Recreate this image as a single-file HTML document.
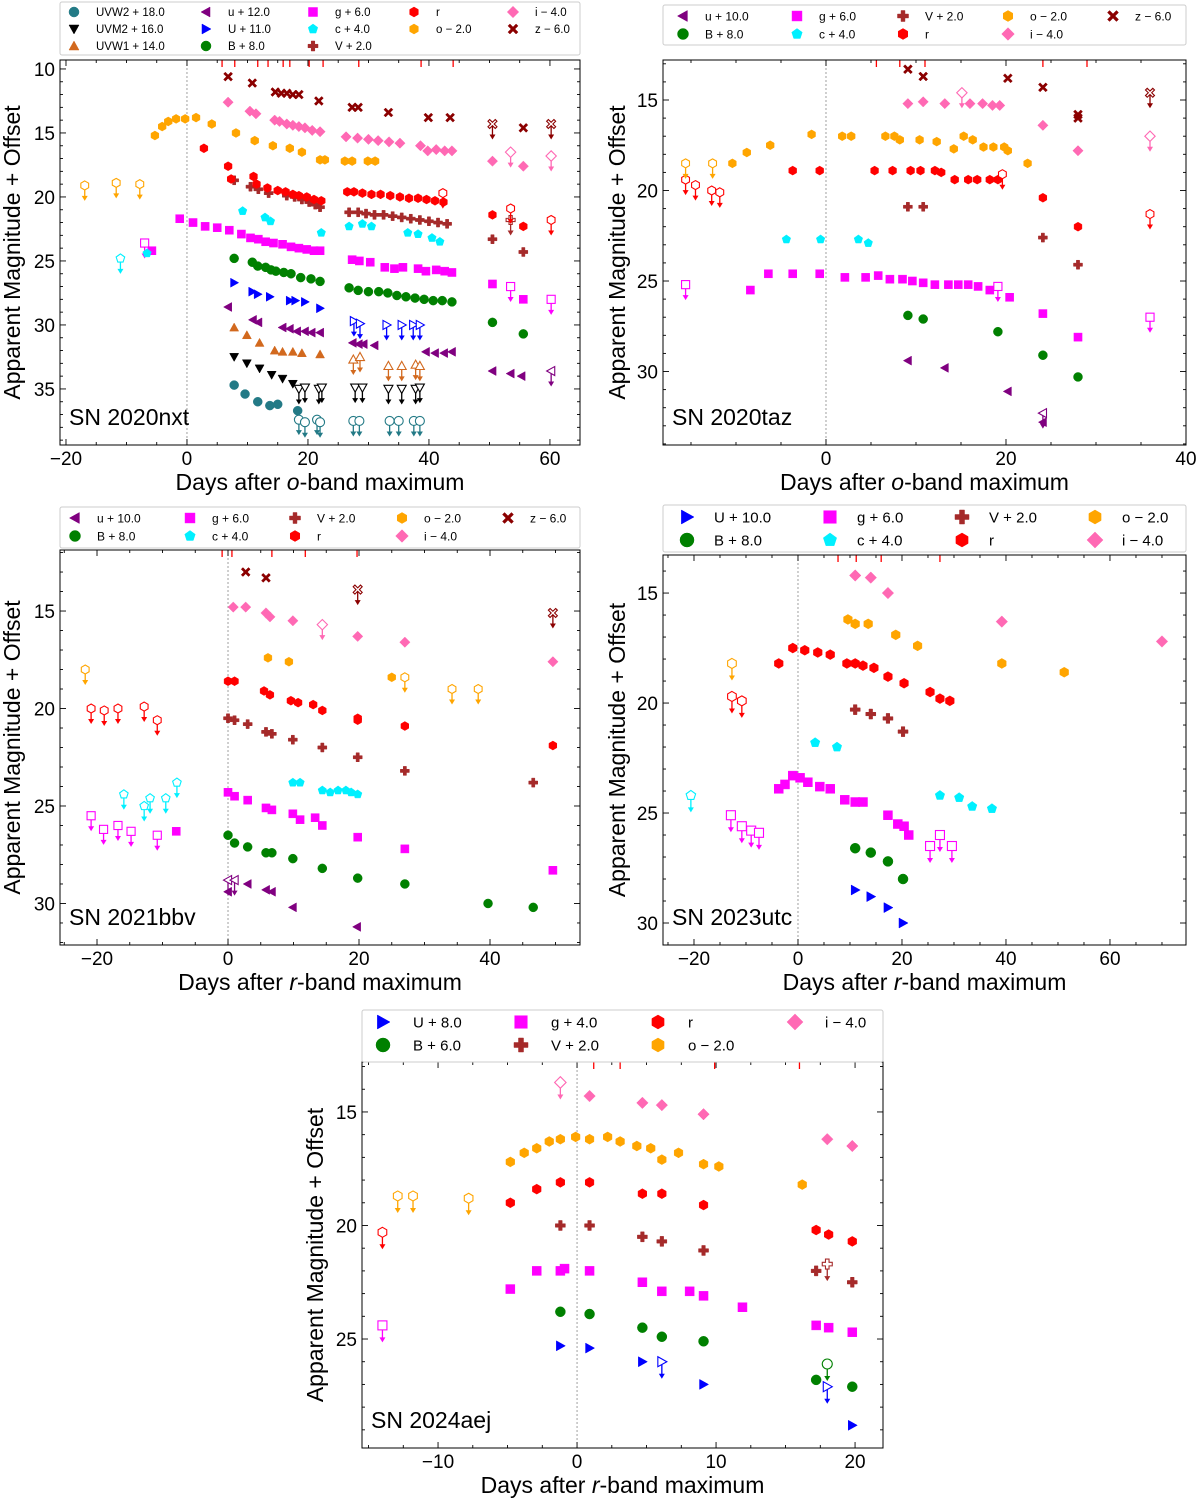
<!DOCTYPE html>
<html><head><meta charset="utf-8">
<style>
html,body{margin:0;padding:0;background:#fff;}
svg{display:block;font-family:"Liberation Sans","DejaVu Sans",sans-serif;}
</style></head>
<body>
<svg id="fig" width="1200" height="1502" viewBox="0 0 1200 1502" xmlns="http://www.w3.org/2000/svg"></svg>
<script>
// ---------- DATA: [day, magnitude, upperLimitFlag] ----------
const nxt_uvw2 = [[7.8,34.7],[9.6,35.4],[11.7,36.0],[13.7,36.3],[15,36.2],[18.3,36.7],[18.5,37.4,1],[19.5,37.6,1],[21.5,37.4,1],[22,37.6,1],[27.5,37.5,1],[28.5,37.5,1],[33.5,37.5,1],[35,37.5,1],[37.5,37.5,1],[38.5,37.5,1]];
const nxt_uvm2 = [[7.8,32.5],[9.9,33.0],[12,33.4],[14,33.9],[15.8,34.2],[17.5,34.6],[18.5,35.0,1],[19.5,34.9,1],[21.8,35.0,1],[22.3,34.9,1],[27.8,34.9,1],[29,34.9,1],[33.3,35.0,1],[35.5,35.0,1],[37.8,35.0,1],[38.5,34.9,1]];
const nxt_uvw1 = [[7.8,30.2],[9.9,30.8],[12,31.4],[14.5,32.0],[15.8,32.1],[17.5,32.1],[19,32.2],[22,32.3],[27.5,32.7,1],[28.6,32.5,1],[33.3,33.2,1],[35.5,33.2,1],[37.8,33.1,1],[38.5,33.2,1]];
const nxt_u = [[6.8,28.6],[10.9,29.6],[11.8,29.8],[15.8,30.2],[17,30.3],[18.2,30.5],[19.5,30.5],[20.6,30.6],[22,30.6],[27.4,31.4],[28.4,31.5],[29.2,31.5],[31,31.6],[39.5,32.1],[41,32.2],[42.5,32.2],[43.8,32.1],[50.5,33.6],[53.5,33.8],[55.3,34.0],[60.2,33.6,1]];
const nxt_U = [[7.8,26.7],[10.8,27.4],[11.7,27.6],[13.7,27.8],[17,28.1],[17.9,28.1],[19.5,28.2],[22,28.7],[27.6,29.7,1],[28.6,29.9,1],[33,30.0,1],[35.5,30.0,1],[37.4,30.0,1],[38.5,30.0,1]];
const nxt_B = [[7.8,24.8],[10.8,25.1],[11.7,25.4],[13,25.5],[13.9,25.7],[14.7,25.8],[16,25.9],[17.2,26.0],[18.8,26.3],[20.5,26.4],[22,26.6],[26.8,27.1],[28.3,27.3],[30,27.4],[31.7,27.4],[33.2,27.5],[34.7,27.7],[36.2,27.8],[37.7,27.9],[39.2,28.0],[40.7,28.1],[42.2,28.1],[43.8,28.2],[50.5,29.8],[55.6,30.7]];
const nxt_g = [[-7,23.6,1],[-5.8,24.2],[-1.2,21.7],[1,22.0],[3,22.3],[5,22.4],[7,22.6],[9,22.9],[10.5,23.2],[11.8,23.3],[13,23.5],[14.3,23.6],[15.8,23.7],[17.2,23.9],[18.5,24.0],[19.8,24.1],[21,24.2],[22,24.2],[27.3,24.9],[28.5,25.0],[30.3,25.1],[32.7,25.5],[34.3,25.6],[35.7,25.5],[38.2,25.6],[39.5,25.8],[41.2,25.7],[42.6,25.8],[43.8,25.9],[50.5,26.8],[53.5,27.0,1],[55.6,28.0],[60.2,28.0,1]];
const nxt_c = [[-11,24.8,1],[-6.6,24.4],[9.2,21.1],[12.9,21.6],[13.8,21.9],[22.2,22.8],[26.8,22.3],[29,22.1],[30.5,22.3],[36.5,22.8],[38.2,22.9],[40.5,23.2],[41.8,23.5]];
const nxt_V = [[7.8,18.7],[10.5,19.2],[11.8,19.4],[13.5,19.7],[16.5,19.9],[17.8,20.0],[19,20.2],[20.2,20.4],[21.2,20.6],[22,20.8],[26.8,21.2],[28.3,21.2],[29.6,21.3],[31,21.4],[32.5,21.4],[34,21.5],[35.5,21.6],[37,21.7],[38.5,21.8],[40,21.9],[41.5,22.0],[43,22.1],[50.5,23.3],[53.5,21.8,1],[55.6,24.3]];
const nxt_r = [[2.8,16.2],[6.8,17.6],[7.3,18.6],[11,18.4],[11.5,19.0],[13.3,19.3],[15,19.5],[16.3,19.6],[17.5,19.8],[18.5,19.9],[19.8,20.0],[21,20.2],[22.2,20.3],[26.5,19.6],[27.6,19.6],[29,19.7],[30.5,19.8],[32,19.8],[33.6,19.9],[35.2,20.0],[36.7,20.1],[38.2,20.1],[39.6,20.2],[41,20.3],[42.4,20.4],[42.3,19.7,1],[50.5,21.4],[53.5,20.9,1],[55.6,22.3],[60.2,21.8,1]];
const nxt_o = [[-16.9,19.1,1],[-11.7,18.9,1],[-7.8,19.0,1],[-5.3,15.2],[-4.1,14.5],[-3.1,14.1],[-1.8,13.9],[-0.3,13.9],[1.5,13.8],[4.1,14.3],[8.1,15.0],[11.2,15.6],[14.2,16.0],[17,16.2],[19,16.5],[22,17.1],[22.8,17.1],[26.1,17.2],[27.3,17.2],[29.9,17.2],[31.1,17.2]];
const nxt_i = [[6.8,12.6],[10.4,13.3],[11.4,13.5],[14.5,14.0],[15.3,14.1],[16.5,14.3],[17.5,14.4],[18.5,14.5],[19.5,14.6],[20.7,14.8],[22,14.9],[26.3,15.3],[28.2,15.4],[30,15.5],[31.6,15.6],[33.4,15.7],[35.2,15.8],[38.6,16.0],[39.8,16.4],[41.2,16.3],[42.6,16.4],[43.8,16.4],[50.5,17.2],[53.5,16.5,1],[55.6,17.6],[60.2,16.8,1]];
const nxt_z = [[6.8,10.6],[10.8,11.1],[14.6,11.8],[15.6,11.9],[16.5,11.9],[17.5,12.0],[18.5,12.0],[21.8,12.5],[27.3,13.0],[28.3,13.0],[33.3,13.4],[39.9,13.8],[43.5,13.8],[50.5,14.3,1],[55.6,14.6],[60.2,14.3,1]];
const nxt_spec = [5.8,7.9,11.7,13.4,15.9,17.0,20.2,22.5,28.4,38.7,44];

const taz_u = [[9.1,29.4],[13.2,29.8],[20.2,31.1],[24.1,32.8],[24.1,32.3,1]];
const taz_B = [[9.1,26.9],[10.8,27.1],[19.1,27.8],[24.1,29.1],[28,30.3]];
const taz_g = [[-15.6,25.2,1],[-8.4,25.5],[-6.4,24.6],[-3.7,24.6],[-0.7,24.6],[2.1,24.8],[4.4,24.8],[5.8,24.7],[7.1,24.9],[8.5,24.9],[9.6,25.0],[10.8,25.1],[12.1,25.2],[13.6,25.2],[14.7,25.2],[15.8,25.2],[16.9,25.3],[18.2,25.5],[19.1,25.3,1],[20.4,25.9],[24.1,26.8],[28,28.1],[36,27.0,1]];
const taz_c = [[-4.4,22.7],[-0.6,22.7],[3.6,22.7],[4.7,22.9]];
const taz_V = [[9.1,20.9],[10.8,20.9],[24.1,22.6],[28,24.1]];
const taz_r = [[-15.6,19.4,1],[-14.5,19.7,1],[-12.7,20.0,1],[-11.8,20.1,1],[-3.7,18.9],[-0.7,18.9],[5.4,18.9],[7.4,18.9],[9.4,18.9],[10.5,18.9],[12.1,18.9],[12.8,19.0],[14.3,19.4],[15.8,19.4],[16.8,19.4],[18.2,19.4],[19.1,19.4],[19.6,19.1,1],[24.1,20.4],[28,22.0],[36,21.3,1]];
const taz_o = [[-15.6,18.5,1],[-12.6,18.5,1],[-10.4,18.5],[-8.8,17.9],[-6.2,17.5],[-1.6,16.9],[1.8,17.0],[2.8,17.0],[6.6,17.0],[7.6,17.0],[8.2,17.2],[10.4,17.2],[12.3,17.3],[14.2,17.7],[15.3,17.0],[16.3,17.2],[17.5,17.6],[18.6,17.6],[19.8,17.6],[20.2,17.8],[22.4,18.5]];
const taz_i = [[9.1,15.2],[10.8,15.1],[13.2,15.2],[15.1,14.6,1],[16,15.2],[17.4,15.2],[18.5,15.3],[19.3,15.3],[24.1,16.4],[28,17.8],[36,17.0,1]];
const taz_z = [[9.1,13.3],[10.8,13.7],[20.2,13.8],[24.1,14.3],[28,15.8],[28,16.0],[36,14.6,1]];
const taz_spec = [5.6,8.2,11,24.1,29];

const bbv_u = [[0,29.4],[0,28.8,1],[1,28.8,1],[3,29.0],[5.8,29.3],[6.7,29.4],[9.9,30.2],[19.7,31.2]];
const bbv_B = [[0,26.5],[1,26.9],[3,27.1],[5.8,27.4],[6.7,27.4],[9.9,27.7],[14.4,28.2],[19.8,28.7],[27,29.0],[39.7,30.0],[46.6,30.2]];
const bbv_g = [[-20.9,25.5,1],[-19,26.2,1],[-16.8,26.0,1],[-14.8,26.3,1],[-10.8,26.5,1],[-7.9,26.3],[0,24.3],[1,24.5],[3,24.7],[5.8,25.1],[6.7,25.2],[9.9,25.4],[11,25.7],[13.3,25.6],[14.4,26.0],[19.8,26.6],[27,27.2],[49.6,28.3]];
const bbv_c = [[-15.9,24.4,1],[-12.8,25.0,1],[-11.9,24.6,1],[-9.5,24.6,1],[-7.8,23.8,1],[9.9,23.8],[11,23.8],[14.4,24.2],[15.6,24.3],[16.8,24.2],[18,24.2],[18.8,24.3],[19.8,24.4]];
const bbv_V = [[0,20.5],[1,20.6],[3,20.8],[5.8,21.2],[6.7,21.3],[9.9,21.6],[14.4,22.0],[19.8,22.5],[27,23.2],[46.6,23.8]];
const bbv_r = [[-20.9,20.0,1],[-18.9,20.1,1],[-16.8,20.0,1],[-12.8,19.9,1],[-10.8,20.6,1],[0,18.6],[1,18.6],[5.5,19.1],[6.4,19.3],[9.6,19.6],[10.7,19.7],[13,19.8],[14.4,20.1],[19.8,20.5],[19.8,20.6],[27,20.9],[49.6,21.9]];
const bbv_o = [[-21.8,18.0,1],[6.1,17.4],[9.3,17.6],[25,18.4],[27,18.4,1],[34.2,19.0,1],[38.2,19.0,1]];
const bbv_i = [[0.8,14.8],[2.7,14.8],[5.8,15.1],[6.4,15.3],[9.9,15.5],[14.4,15.7,1],[19.8,16.3],[27,16.6],[49.6,17.6]];
const bbv_z = [[2.7,13.0],[5.8,13.3],[19.8,13.9,1],[49.6,15.1,1]];
const bbv_spec = [-0.9,0.6,6.7,11.8,19.7];

const utc_U = [[11,28.5],[14,28.8],[17.3,29.3],[20.2,30.0]];
const utc_B = [[11,26.6],[14,26.8],[17.3,27.2],[20.2,28.0]];
const utc_g = [[-12.9,25.1,1],[-10.8,25.6,1],[-9,25.8,1],[-7.5,25.9,1],[-3.7,23.9],[-2.5,23.7],[-1,23.3],[0.4,23.4],[1.9,23.6],[4.2,23.8],[6.2,23.9],[9,24.4],[11,24.5],[12.5,24.5],[17.3,25.1],[19.2,25.5],[20.4,25.6],[21.3,26.0],[25.4,26.5,1],[27.3,26.0,1],[29.6,26.5,1]];
const utc_c = [[-20.6,24.2,1],[3.3,21.8],[7.5,22.0],[27.3,24.2],[31,24.3],[33.5,24.7],[37.3,24.8]];
const utc_V = [[11,20.3],[14,20.5],[17.3,20.7],[20.2,21.3]];
const utc_r = [[-12.7,19.7,1],[-10.8,19.9,1],[-3.7,18.2],[-1,17.5],[1.3,17.6],[3.8,17.7],[6.2,17.8],[9.4,18.2],[11,18.2],[12.5,18.3],[14.6,18.4],[17.3,18.8],[20.4,19.1],[25.4,19.5],[27.3,19.8],[29.2,19.9]];
const utc_o = [[-12.7,18.2,1],[9.6,16.2],[11,16.4],[13.5,16.4],[18.8,16.9],[23,17.4],[39.2,18.2],[51.2,18.6]];
const utc_i = [[11,14.2],[14,14.3],[17.3,15.0],[39.2,16.3],[70,17.2]];
const utc_spec = [7.7,11.2,16,27.3];

const aej_U = [[-1.2,25.3],[0.9,25.4],[4.7,26.0],[6.1,26.0,1],[9.1,27.0],[18,27.1,1],[19.8,28.8]];
const aej_B = [[-1.2,23.8],[0.9,23.9],[4.7,24.5],[6.1,24.9],[9.1,25.1],[17.2,26.8],[18,26.1,1],[19.8,27.1]];
const aej_g = [[-14,24.4,1],[-4.8,22.8],[-2.9,22.0],[-1.2,22.0],[-0.9,21.9],[0.9,22.0],[4.7,22.5],[6.1,22.9],[8.1,22.9],[9.1,23.1],[11.9,23.6],[17.2,24.4],[18.1,24.5],[19.8,24.7]];
const aej_V = [[-1.2,20.0],[0.9,20.0],[4.7,20.5],[6.1,20.7],[9.1,21.1],[17.2,22.0],[18,21.7,1],[19.8,22.5]];
const aej_r = [[-14,20.3,1],[-4.8,19.0],[-2.9,18.4],[-1.2,18.1],[0.9,18.1],[4.7,18.6],[6.1,18.6],[9.1,19.1],[17.2,20.2],[18.1,20.4],[19.8,20.7]];
const aej_o = [[-12.9,18.7,1],[-11.8,18.7,1],[-7.8,18.8,1],[-4.8,17.2],[-3.8,16.8],[-2.9,16.6],[-2,16.3],[-1.2,16.2],[-0.1,16.1],[0.9,16.2],[2.2,16.1],[3.1,16.3],[4.3,16.5],[5.3,16.6],[6.1,17.1],[7.3,16.8],[9.1,17.3],[10.2,17.4],[16.2,18.2]];
const aej_i = [[-1.2,13.7,1],[0.9,14.3],[4.7,14.6],[6.1,14.7],[9.1,15.1],[18,16.2],[19.8,16.5]];
const aej_spec = [1.2,3.1,9.9,16];

// ---------- STYLE ----------
const C = {uvw2:'#237a86',uvm2:'#000',uvw1:'#d2691e',u:'#800080',U:'#0000ff',B:'#008000',g:'#ff00ff',c:'#00f0ff',V:'#a52a2a',r:'#ff0000',o:'#ffa500',i:'#ff69b4',z:'#8b0000'};
const M = {uvw2:'circle',uvm2:'tdown',uvw1:'tup',u:'tleft',U:'tright',B:'circle',g:'square',c:'pent',V:'plus',r:'hex',o:'hex',i:'diamond',z:'xx'};
const NS='http://www.w3.org/2000/svg';
const svg=document.getElementById('fig');
function mkEl(tag,attrs,parent){const e=document.createElementNS(NS,tag);for(const k in attrs)e.setAttribute(k,attrs[k]);parent.appendChild(e);return e;}
function poly(pts){return pts.map(p=>p[0].toFixed(2)+','+p[1].toFixed(2)).join(' ');}
function shape(g,type,x,y,s,color,open){
  const h=s/2;let pts=null;
  const fill=open?'#fff':color, st={fill:fill,stroke:color,'stroke-width':open?1.1:0.5};
  if(type==='circle'){return mkEl('circle',Object.assign({cx:x,cy:y,r:h},st),g);}
  if(type==='square'){return mkEl('rect',Object.assign({x:x-h*0.9,y:y-h*0.9,width:s*0.9,height:s*0.9},st),g);}
  if(type==='tdown')pts=[[x-h,y-h*0.8],[x+h,y-h*0.8],[x,y+h]];
  if(type==='tup')pts=[[x-h,y+h*0.8],[x+h,y+h*0.8],[x,y-h]];
  if(type==='tleft')pts=[[x+h*0.8,y-h],[x+h*0.8,y+h],[x-h,y]];
  if(type==='tright')pts=[[x-h*0.8,y-h],[x-h*0.8,y+h],[x+h,y]];
  if(type==='diamond')pts=[[x,y-h*1.15],[x+h*1.15,y],[x,y+h*1.15],[x-h*1.15,y]];
  if(type==='pent'){pts=[];for(let k=0;k<5;k++){const a=-Math.PI/2+k*2*Math.PI/5;pts.push([x+h*Math.cos(a),y+h*Math.sin(a)]);}}
  if(type==='hex'){pts=[];for(let k=0;k<6;k++){const a=-Math.PI/2+k*Math.PI/3;pts.push([x+h*Math.cos(a),y+h*Math.sin(a)]);}}
  if(type==='plus'){const a=h/2.8;pts=[[x-a,y-h],[x+a,y-h],[x+a,y-a],[x+h,y-a],[x+h,y+a],[x+a,y+a],[x+a,y+h],[x-a,y+h],[x-a,y+a],[x-h,y+a],[x-h,y-a],[x-a,y-a]];}
  if(type==='xx'){const a=h*0.38;pts=[];const base=[[0,-a],[h-a,-h],[h,-h+a],[a,0],[h,h-a],[h-a,h],[0,a],[-h+a,h],[-h,h-a],[-a,0],[-h,-h+a],[-h+a,-h]];base.forEach(p=>pts.push([x+p[0],y+p[1]]));}
  return mkEl('polygon',Object.assign({points:poly(pts)},st),g);
}
function tickText(g,x,y,txt,anchor,size){const t=mkEl('text',{x:x,y:y,'text-anchor':anchor,'font-size':size,fill:'#000'},g);t.textContent=txt;return t;}

function drawPanel(P){
  const g=mkEl('g',{},svg);
  
  
  const bx=P.box;
  const sx=d=>bx[0]+(d-P.xlim[0])/(P.xlim[1]-P.xlim[0])*(bx[2]-bx[0]);
  const sy=m=>bx[1]+(m-P.ylim[0])/(P.ylim[1]-P.ylim[0])*(bx[3]-bx[1]);
  const zl=mkEl('line',{x1:sx(0),x2:sx(0),y1:bx[1],y2:bx[3],stroke:'#888','stroke-width':0.8,'stroke-dasharray':'2,2'},g);
  
  
  P.spec.forEach(d=>{const l=mkEl('line',{x1:sx(d),x2:sx(d),y1:bx[1],y2:bx[1]+7,stroke:'#ff0000','stroke-width':1.3},g);
    
    });
  P.series.forEach(S=>{
    const sg=mkEl('g',{},g);
    
    
    S.data.forEach(p=>{
      const x=sx(p[0]),y=sy(p[1]);
      if(x<bx[0]||x>bx[2])return;
      const up=p[2]===1;
      if(up){const L=P.ms*1.5;
        mkEl('line',{x1:x,x2:x,y1:y,y2:y+L,stroke:C[S.band],'stroke-width':1.3},sg);
        mkEl('polygon',{points:poly([[x-3,y+L-3],[x+3,y+L-3],[x,y+L+2]]),fill:C[S.band]},sg);}
      const m=shape(sg,M[S.band],x,y,P.ms,C[S.band],up);
      
      
    });
  });
  const fr=mkEl('rect',{x:bx[0],y:bx[1],width:bx[2]-bx[0],height:bx[3]-bx[1],fill:'none',stroke:'#000','stroke-width':1},g);
  
  
  for(let v=Math.ceil(P.xlim[0]/P.xminor)*P.xminor;v<=P.xlim[1];v+=P.xminor){
    const x=sx(v);const major=Math.abs(v/P.xmajor-Math.round(v/P.xmajor))<1e-6;const L=major?6:3;
    mkEl('line',{x1:x,x2:x,y1:bx[3],y2:bx[3]-L,stroke:'#000','stroke-width':0.9},g);
    mkEl('line',{x1:x,x2:x,y1:bx[1],y2:bx[1]+L,stroke:'#000','stroke-width':0.9},g);
    if(major){const t=tickText(g,x,bx[3]+20,(v<0?'\u2212':'')+Math.abs(Math.round(v)),'middle',19);
      
      }
  }
  for(let v=Math.ceil(P.ylim[0]);v<=P.ylim[1];v+=1){
    const y=sy(v);const major=v%5===0;const L=major?6:3;
    mkEl('line',{x1:bx[0],x2:bx[0]+L,y1:y,y2:y,stroke:'#000','stroke-width':0.9},g);
    mkEl('line',{x1:bx[2],x2:bx[2]-L,y1:y,y2:y,stroke:'#000','stroke-width':0.9},g);
    if(major){const t=tickText(g,bx[0]-5,y+7,String(v),'end',19);
      
      }
  }
  const xl=mkEl('text',{x:(bx[0]+bx[2])/2,y:bx[3]+45,'text-anchor':'middle','font-size':23},g);
  
  
  xl.innerHTML='Days after <tspan font-style="italic">'+P.ref+'</tspan>-band maximum';
  const cy=(bx[1]+bx[3])/2;
  const yl=mkEl('text',{x:P.ylx,y:cy,'text-anchor':'middle','font-size':23,transform:'rotate(-90 '+P.ylx+' '+cy+')'},g);
  
  
  yl.textContent='Apparent Magnitude + Offset';
  const sn=mkEl('text',{x:bx[0]+9,y:bx[3]-20,'font-size':23},g);
  
  
  sn.textContent=P.title;
  const L=P.legend;
  const lg=mkEl('g',{},svg);
  
  
  mkEl('rect',{x:L.box[0],y:L.box[1],width:L.box[2]-L.box[0],height:L.box[3]-L.box[1],fill:'#fff',stroke:'#ccc','stroke-width':1,rx:2},lg);
  L.items.forEach((it,k)=>{
    if(!it)return;
    const col=Math.floor(k/L.rows),row=k%L.rows;
    const mx=L.cols[col],my=L.ys[row];
    const eg=mkEl('g',{},lg);
    
    
    shape(eg,M[it[0]],mx,my,L.ms,C[it[0]],false);
    const t=mkEl('text',{x:mx+L.dx,y:my+L.fs*0.36,'font-size':L.fs},eg);
    t.textContent=it[1];
  });
}

const panels=[
 {name:'panel-sn2020nxt',title:'SN 2020nxt',ref:'o',box:[60,60,580,445],xlim:[-20.99,64.97],ylim:[9.3,39.38],xmajor:20,xminor:5,ms:9,ylx:20,spec:nxt_spec,
  series:[{band:'uvw2',data:nxt_uvw2},{band:'uvm2',data:nxt_uvm2},{band:'uvw1',data:nxt_uvw1},{band:'u',data:nxt_u},{band:'U',data:nxt_U},{band:'B',data:nxt_B},{band:'g',data:nxt_g},{band:'c',data:nxt_c},{band:'V',data:nxt_V},{band:'r',data:nxt_r},{band:'o',data:nxt_o},{band:'i',data:nxt_i},{band:'z',data:nxt_z}],
  legend:{box:[60,2,580,55],rows:3,cols:[74,206,313,414,513],ys:[12,29,46],dx:22,fs:11.5,ms:10,
   items:[['uvw2','UVW2 + 18.0'],['uvm2','UVM2 + 16.0'],['uvw1','UVW1 + 14.0'],['u','u + 12.0'],['U','U + 11.0'],['B','B + 8.0'],['g','g + 6.0'],['c','c + 4.0'],['V','V + 2.0'],['r','r'],['o','o \u2212 2.0'],null,['i','i \u2212 4.0'],['z','z \u2212 6.0']]}},
 {name:'panel-sn2020taz',title:'SN 2020taz',ref:'o',box:[663,60,1186,445],xlim:[-18.11,40],ylim:[12.79,34.06],xmajor:20,xminor:5,ms:9,ylx:625,spec:taz_spec,
  series:[{band:'u',data:taz_u},{band:'B',data:taz_B},{band:'g',data:taz_g},{band:'c',data:taz_c},{band:'V',data:taz_V},{band:'r',data:taz_r},{band:'o',data:taz_o},{band:'i',data:taz_i},{band:'z',data:taz_z}],
  legend:{box:[663,5,1186,45],rows:2,cols:[683,797,903,1008,1113],ys:[16,34],dx:22,fs:12,ms:11,
   items:[['u','u + 10.0'],['B','B + 8.0'],['g','g + 6.0'],['c','c + 4.0'],['V','V + 2.0'],['r','r'],['o','o \u2212 2.0'],['i','i \u2212 4.0'],['z','z \u2212 6.0']]}},
 {name:'panel-sn2021bbv',title:'SN 2021bbv',ref:'r',box:[60,550,580,945],xlim:[-25.65,53.74],ylim:[11.87,32.13],xmajor:20,xminor:5,ms:9,ylx:20,spec:bbv_spec,
  series:[{band:'u',data:bbv_u},{band:'B',data:bbv_B},{band:'g',data:bbv_g},{band:'c',data:bbv_c},{band:'V',data:bbv_V},{band:'r',data:bbv_r},{band:'o',data:bbv_o},{band:'i',data:bbv_i},{band:'z',data:bbv_z}],
  legend:{box:[60,507,580,548],rows:2,cols:[75,190,295,402,508],ys:[518,536],dx:22,fs:12,ms:11,
   items:[['u','u + 10.0'],['B','B + 8.0'],['g','g + 6.0'],['c','c + 4.0'],['V','V + 2.0'],['r','r'],['o','o \u2212 2.0'],['i','i \u2212 4.0'],['z','z \u2212 6.0']]}},
 {name:'panel-sn2023utc',title:'SN 2023utc',ref:'r',box:[663,555,1186,945],xlim:[-25.96,74.62],ylim:[13.27,31],xmajor:20,xminor:5,ms:10,ylx:625,spec:utc_spec,
  series:[{band:'U',data:utc_U},{band:'B',data:utc_B},{band:'g',data:utc_g},{band:'c',data:utc_c},{band:'V',data:utc_V},{band:'r',data:utc_r},{band:'o',data:utc_o},{band:'i',data:utc_i}],
  legend:{box:[663,505,1186,552],rows:2,cols:[687,830,962,1095],ys:[517,540],dx:27,fs:15,ms:14,
   items:[['U','U + 10.0'],['B','B + 8.0'],['g','g + 6.0'],['c','c + 4.0'],['V','V + 2.0'],['r','r'],['o','o \u2212 2.0'],['i','i \u2212 4.0']]}},
 {name:'panel-sn2024aej',title:'SN 2024aej',ref:'r',box:[362,1062,883,1448],xlim:[-15.47,22.01],ylim:[12.8,29.8],xmajor:10,xminor:2.5,ms:10,ylx:323,spec:aej_spec,
  series:[{band:'U',data:aej_U},{band:'B',data:aej_B},{band:'g',data:aej_g},{band:'V',data:aej_V},{band:'r',data:aej_r},{band:'o',data:aej_o},{band:'i',data:aej_i}],
  legend:{box:[362,1010,883,1062],rows:2,cols:[383,521,658,795],ys:[1022,1045],dx:30,fs:15,ms:14,
   items:[['U','U + 8.0'],['B','B + 6.0'],['g','g + 4.0'],['V','V + 2.0'],['r','r'],['o','o \u2212 2.0'],['i','i \u2212 4.0']]}}
];
panels.forEach(drawPanel);
</script>
</body></html>
